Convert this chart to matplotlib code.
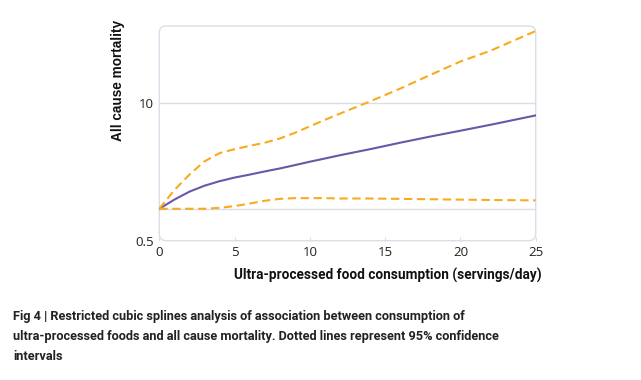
import matplotlib
matplotlib.use('Agg')
import matplotlib.pyplot as plt
from matplotlib.patches import FancyBboxPatch
from matplotlib.ticker import NullLocator

# servings/day and hazard estimates
servings = [0, 1, 2, 3, 4, 5, 6, 7, 8, 9, 10, 11, 12, 14, 16, 18, 20, 22, 25]
estimate = [1.0, 1.22, 1.45, 1.65, 1.82, 1.97, 2.1, 2.25, 2.4, 2.58, 2.78, 2.98, 3.2,
            3.65, 4.2, 4.8, 5.45, 6.2, 7.6]
upper_ci = [1.0, 1.5, 2.1, 2.8, 3.35, 3.65, 3.92, 4.2, 4.6, 5.2, 6.0, 6.9, 7.9,
            10.3, 13.6, 18.3, 24.5, 31.0, 47.5]
lower_ci = [1.0, 1.0, 1.0, 1.0, 1.02, 1.06, 1.12, 1.19, 1.24, 1.26, 1.26, 1.26, 1.25,
            1.25, 1.24, 1.23, 1.22, 1.21, 1.2]

x_ticks = [0, 5, 10, 15, 20, 25]
y_ticks = [0.5, 10]
y_ticklabels = ['0.5', '10']
grid_lines = [1, 10]

caption = ("Fig 4 | Restricted cubic splines analysis of association between consumption of\n"
           "ultra-processed foods and all cause mortality. Dotted lines represent 95% confidence\n"
           "intervals")

purple = '#6a57a8'
orange = '#f7ab1f'
frame = '#dcdde6'

fig = plt.figure(figsize=(6.41, 3.8), dpi=100)
ax = fig.add_axes([0.2485, 0.3666, 0.5872, 0.565])
ax.set_yscale('log')
ax.set_xlim(0, 25)
ax.set_ylim(0.5, 53)

for g in grid_lines:
    ax.axhline(g, color=frame, lw=1.0, zorder=1)

ax.plot(servings, estimate, color=purple, lw=1.5, zorder=3)
ax.plot(servings, upper_ci, color=orange, lw=1.5, dashes=(4, 2.2), zorder=3)
ax.plot(servings, lower_ci, color=orange, lw=1.5, dashes=(4, 2.2), zorder=3)

for s in ax.spines.values():
    s.set_visible(False)

w_px = 0.5872 * 641
h_px = 0.565 * 380
box = FancyBboxPatch((0, 0), 1, 1, boxstyle='round,pad=0,rounding_size=0.018',
                     mutation_aspect=w_px / h_px, transform=ax.transAxes,
                     facecolor='none', edgecolor=frame, lw=1.0, clip_on=False, zorder=2)
ax.add_patch(box)

ax.set_xticks(x_ticks)
ax.set_yticks(y_ticks)
ax.set_yticklabels(y_ticklabels)
ax.yaxis.set_minor_locator(NullLocator())
ax.tick_params(axis='x', direction='in', length=3, color=frame, pad=4,
               labelsize=9.5, labelcolor='#222222')
ax.tick_params(axis='y', length=0, pad=4, labelsize=9.5, labelcolor='#222222')
for lab in ax.get_xticklabels() + ax.get_yticklabels():
    lab.set_family('Open Sans')

fig.text(118 / 641, 1 - 80 / 380, 'All cause mortality', rotation=90,
         ha='center', va='center', fontsize=9.8, fontweight='bold',
         family='Liberation Sans', color='#111111')
fig.text(387.5 / 641, 1 - 275 / 380, 'Ultra-processed food consumption (servings/day)',
         ha='center', va='center', fontsize=9.85, fontweight='bold',
         family='Roboto', color='#111111')

fig.text(13 / 641, 1 - 310 / 380, caption, ha='left', va='top', fontsize=9.2,
         fontweight='bold', family='Roboto', color='#222222', linespacing=1.69)

fig.savefig('out.png', dpi=100)
